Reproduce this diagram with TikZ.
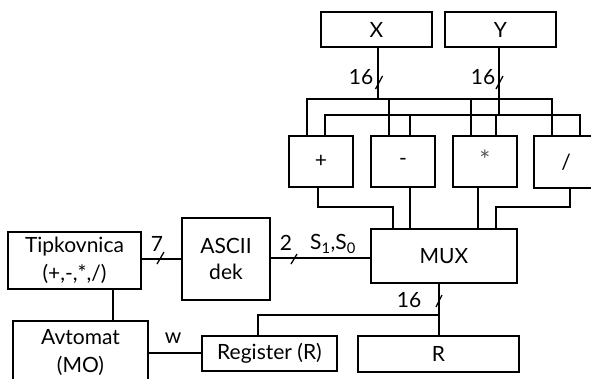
\documentclass[tikz,border=0pt]{standalone}
\usepackage{fontspec}
\setmainfont{Lato}
\begin{document}
\begin{tikzpicture}[x=1pt,y=-1pt,
  box/.style={draw, line width=1.5pt, inner sep=0pt, align=center, font=\fontsize{21}{28}\selectfont},
  wire/.style={line width=1.5pt},
  lbl/.style={inner sep=0pt, font=\fontsize{21}{22}\selectfont},
  busslash/.style={line width=1.3pt}]
\useasboundingbox (0,0) rectangle (591,378);
\clip (0,0) rectangle (591,378);
% boxes
\node[box, minimum width=111pt, minimum height=35pt] (X) at (376.5,29.5) {X};
\node[box, minimum width=111pt, minimum height=35pt] (Y) at (500.5,29.5) {Y};
\node[box, minimum width=64pt, minimum height=51pt] (plus) at (321,161.5) {+};
\node[box, minimum width=64pt, minimum height=51pt] (minus) at (403,161.5) {-};
\node[box, minimum width=64pt, minimum height=51pt] (times) at (485,161.5) {\raisebox{3pt}{\color{black!65}\fontsize{26}{26}\selectfont *}};
\node[box, minimum width=64pt, minimum height=52pt] (div) at (566,162) {/};
\node[box, minimum width=146pt, minimum height=54pt] (mux) at (444,256) {MUX};
\node[box, minimum width=161pt, minimum height=36pt] (R) at (438.5,354) {R};
\node[box, minimum width=135pt, minimum height=35pt] (reg) at (269.5,353.5) {Register (R)};
\node[box, minimum width=133pt, minimum height=57pt] (tip) at (74.5,260.5) {Tipkovnica\\(+,-,*,/)};
\node[box, minimum width=88pt, minimum height=82pt] (ascii) at (226,259) {ASCII\\[-2pt]dek};
\node[box, minimum width=135pt, minimum height=63pt] (avt) at (80.5,352.5) {Avtomat\\(MO)};
% bus coordinates
\coordinate (xb) at (378,99);
\coordinate (yb) at (499,115);
\coordinate (b1l) at (307,99);
\coordinate (b1r) at (552,99);
\coordinate (b2l) at (325,115);
\coordinate (b2r) at (580,115);
% X bus
\draw[wire] (X.south -| xb) -- (xb);
\draw[wire] (plus.north -| b1l) -- (b1l) -- (b1r) -- (div.north -| b1r);
\draw[wire] (389,99) -- (minus.north -| 389,0);
\draw[wire] (471,99) -- (times.north -| 471,0);
% Y bus
\draw[wire] (Y.south -| yb) -- (yb);
\draw[wire] (plus.north -| b2l) -- (b2l) -- (b2r) -- (div.north -| b2r);
\draw[wire] (410,115) -- (minus.north -| 410,0);
\draw[wire] (496,115) -- (times.north -| 496,0);
% outputs to MUX
\draw[wire] (plus.south -| 318,0) -- (318,207) -- (393,207) -- (mux.north -| 393,0);
\draw[wire] (minus.south -| 410,0) -- (mux.north -| 410,0);
\draw[wire] (times.south -| 478,0) -- (mux.north -| 478,0);
\draw[wire] (div.south -| 570,0) -- (570,207) -- (496,207) -- (mux.north -| 496,0);
% left side
\draw[wire] (tip.east |- 0,259) -- (ascii.west |- 0,259);
\draw[wire] (ascii.east |- 0,258) -- (mux.west |- 0,258);
\draw[wire] (tip.south -| 113,0) -- (avt.north -| 113,0);
\draw[wire] (avt.east |- 0,353) -- (reg.west |- 0,353);
\coordinate (rj) at (439,315);
\draw[wire] (reg.north -| 258,0) -- (258,315) -- (rj);
\draw[wire] (mux.south -| rj) -- (R.north -| rj);
% slashes
\draw[busslash] (375.5,89) -- (382.5,76);
\draw[busslash] (496,89) -- (503,76);
\draw[busslash] (436,307) -- (442,295);
\draw[busslash] (157,264) -- (164,252);
\draw[busslash] (291,264) -- (297,254);
% labels
\node[lbl] (l16a) at (361,77) {16};
\node[lbl] (l16b) at (483,77) {16};
\node[lbl] (l16c) at (409,300) {16};
\node[lbl] (l7) at (157,244) {7};
\node[lbl] (l2) at (286,243) {2};
\node[lbl] (ls) at (333,244) {S\textsubscript{1},S\textsubscript{0}};
\node[lbl] (lw) at (173,338) {w};
\end{tikzpicture}
\end{document}
